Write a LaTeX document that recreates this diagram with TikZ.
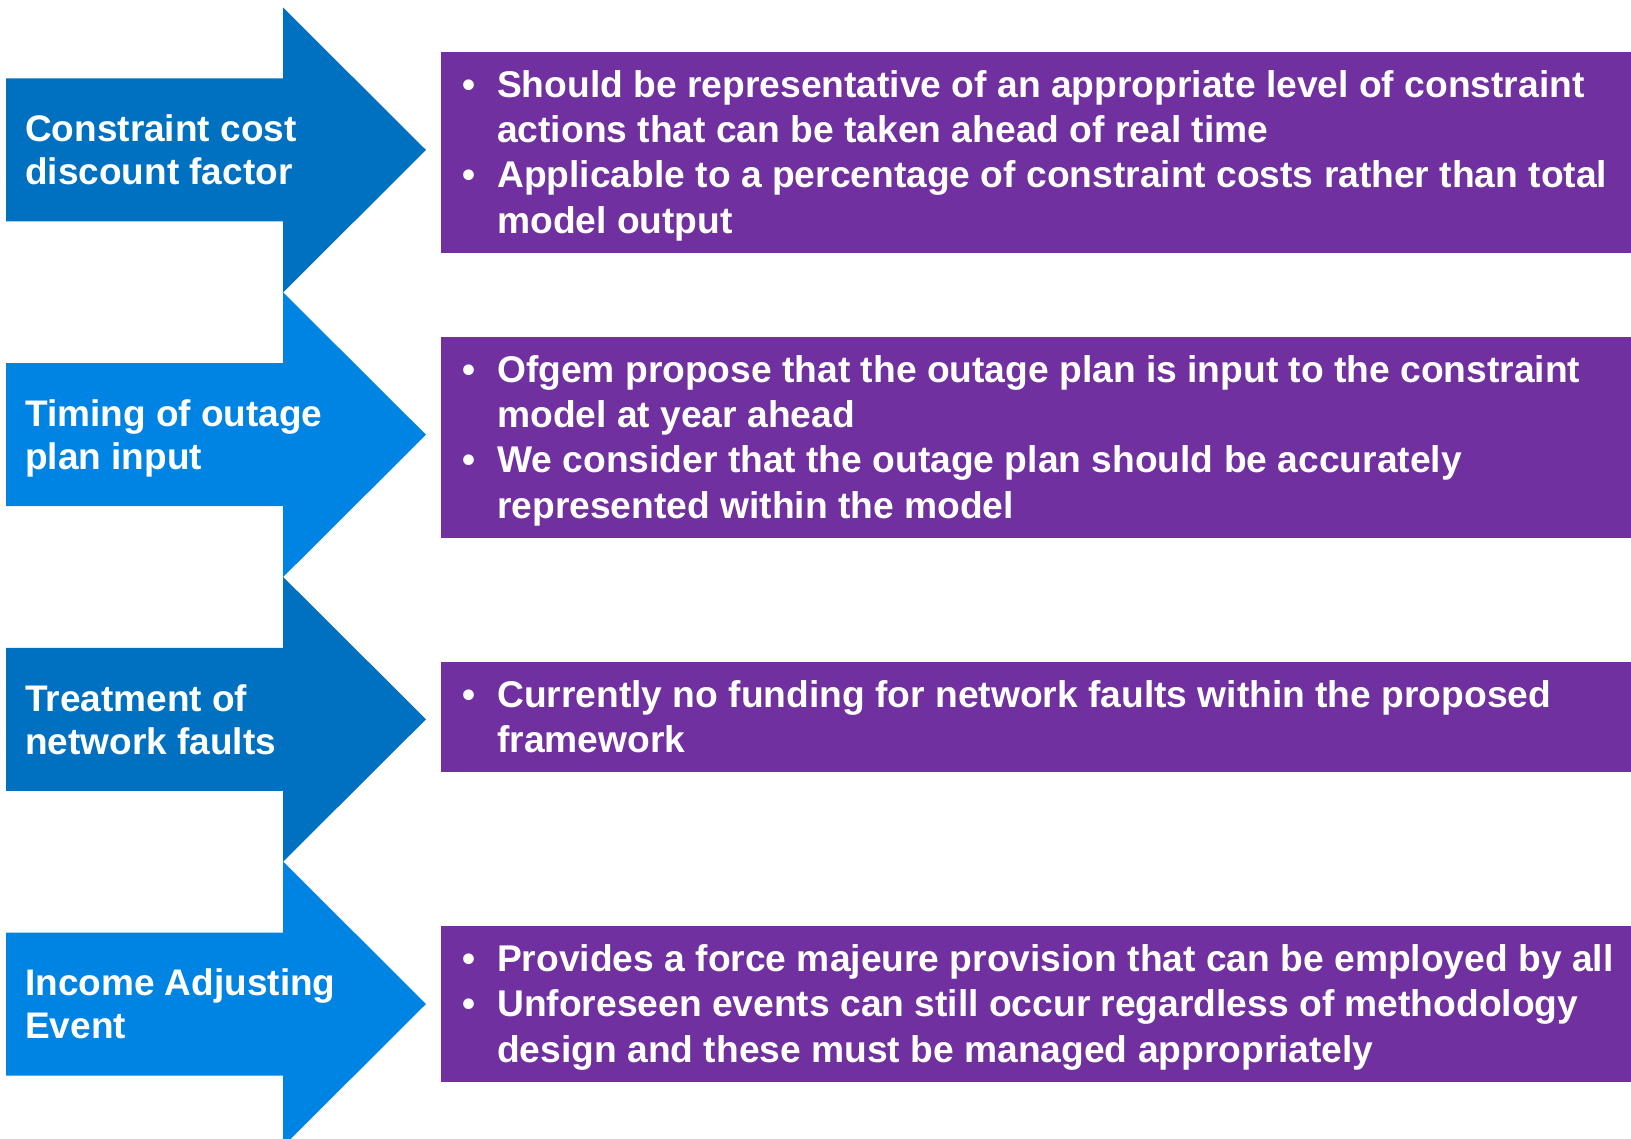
\documentclass[tikz,border=0pt]{standalone}
\usepackage{fontspec}
\setmainfont{Liberation Sans}
\definecolor{dblue}{HTML}{0070C0}
\definecolor{lblue}{HTML}{0084E4}
\definecolor{purp}{HTML}{7030A0}
\newcommand{\bul}{\makebox[35pt][l]{•}}
\begin{document}
\begin{tikzpicture}[x=1pt,y=-1pt,
  pbox/.style={fill=purp, draw=none, minimum width=1190pt, inner sep=0pt, anchor=north west},
  lbl/.style={anchor=north west, inner sep=0pt, text=white, font=\fontsize{37}{43}\selectfont\bfseries},
  btxt/.style={anchor=west, inner sep=0pt, text=white, font=\fontsize{37.2}{45.4}\selectfont\bfseries}]
\useasboundingbox (0,0) rectangle (1631,1139);
% arrows
\foreach \c/\col in {150/dblue, 434.7/lblue, 719.3/dblue, 1004/lblue}{
  \fill[\col] (6,\c-71.5) -- (283,\c-71.5) -- (283,\c-142.5) -- (426,\c) -- (283,\c+142.5) -- (283,\c+71.5) -- (6,\c+71.5) -- cycle;
}
% arrow labels
\node[lbl] (l1) at (25,150-38.6) {\begin{tabular}{@{}l@{}}Constraint cost\\discount factor\end{tabular}};
\node[lbl] (l2) at (25,434.7-38.6) {\begin{tabular}{@{}l@{}}Timing of outage\\plan input\end{tabular}};
\node[lbl] (l3) at (25,719.3-38.6) {\begin{tabular}{@{}l@{}}Treatment of\\network faults\end{tabular}};
\node[lbl] (l4) at (25,1004-38.6) {\begin{tabular}{@{}l@{}}Income Adjusting\\Event\end{tabular}};
% purple boxes
\node[pbox, minimum height=201pt] (b1) at (441,52) {};
\node[pbox, minimum height=201pt] (b2) at (441,337) {};
\node[pbox, minimum height=110pt] (b3) at (441,662) {};
\node[pbox, minimum height=156pt] (b4) at (441,926) {};
% box texts
\node[btxt] (t1) at ([xshift=21pt,yshift=-3.5pt]b1.west) {\begin{tabular}{@{}l@{}l@{}}
\bul & Should be representative of an appropriate level of constraint\\
 & actions that can be taken ahead of real time\\
\bul & Applicable to a percentage of constraint costs rather than total\\
 & model output\end{tabular}};
\node[btxt] (t2) at ([xshift=21pt,yshift=-3.5pt]b2.west) {\begin{tabular}{@{}l@{}l@{}}
\bul & Ofgem propose that the outage plan is input to the constraint\\
 & model at year ahead\\
\bul & We consider that the outage plan should be accurately\\
 & represented within the model\end{tabular}};
\node[btxt] (t3) at ([xshift=21pt,yshift=-3.5pt]b3.west) {\begin{tabular}{@{}l@{}l@{}}
\bul & Currently no funding for network faults within the proposed\\
 & framework\end{tabular}};
\node[btxt] (t4) at ([xshift=21pt,yshift=-3.5pt]b4.west) {\begin{tabular}{@{}l@{}l@{}}
\bul & Provides a force majeure provision that can be employed by all\\
\bul & Unforeseen events can still occur regardless of methodology\\
 & design and these must be managed appropriately\end{tabular}};
\end{tikzpicture}
\end{document}
